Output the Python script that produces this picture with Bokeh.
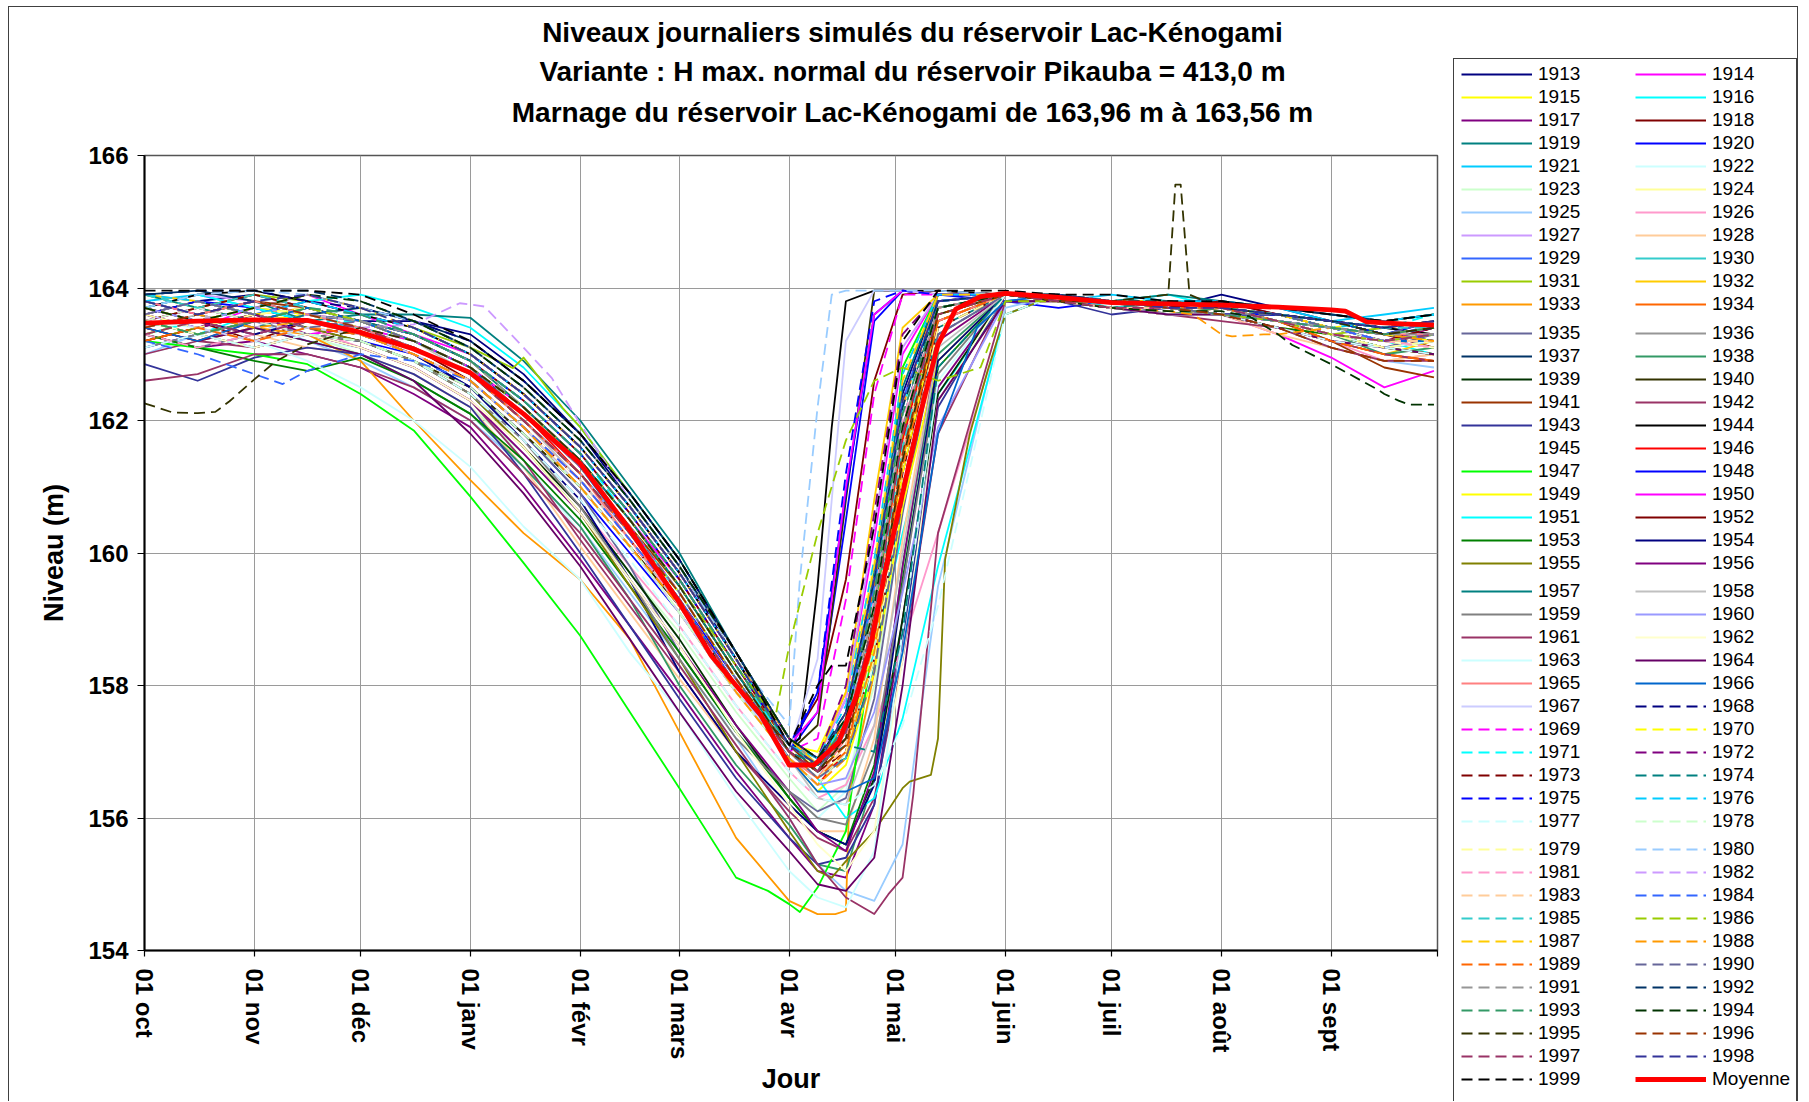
from bokeh.plotting import figure
from bokeh.layouts import row, column
from bokeh.models import Range1d, FixedTicker, Legend, LegendItem, Label
from bokeh.embed import file_html
from bokeh.resources import INLINE

# Days counted from 1 October; one sample per half month, denser around the spring refill
DAYS = [0, 15, 31, 46, 61, 76, 92, 107, 123, 137, 151, 167, 182, 190, 198, 206,
        214, 224, 243, 258, 273, 289, 304, 320, 335, 350, 364]

MONTH_DAYS = [0, 31, 61, 92, 123, 151, 182, 212, 243, 273, 304, 335]
MONTH_LABELS = ["01 oct", "01 nov", "01 déc", "01 janv", "01 févr", "01 mars",
                "01 avr", "01 mai", "01 juin", "01 juil", "01 août", "01 sept"]
LEVEL_TICKS = [154, 156, 158, 160, 162, 164, 166]

# Simulated daily levels (m), one list per hydrological year
L1913 = [163.6, 163.8, 163.9, 163.7, 163.5, 163.5, 163.3, 162.7, 161.8, 160.8, 159.8, 158.4, 157.1, 156.7, 157.4, 159.6, 162.4, 163.9, 163.9, 163.8, 163.8, 163.7, 163.9, 163.7, 163.5, 163.3, 163.2]
L1914 = [163.2, 163.4, 163.7, 163.9, 163.6, 163.3, 163.0, 162.4, 161.6, 160.7, 159.7, 158.4, 157.2, 156.9, 157.8, 160.2, 163.0, 163.9, 163.9, 163.8, 163.7, 163.7, 163.6, 163.3, 162.95, 162.5, 162.75]
L1915 = [163.9, 163.7, 163.5, 163.6, 163.4, 163.2, 162.8, 162.1, 161.3, 160.4, 159.5, 158.2, 157.1, 157.0, 157.9, 159.8, 161.9, 163.5, 163.9, 163.9, 163.8, 163.7, 163.7, 163.6, 163.4, 163.5, 163.6]
L1916 = [163.5, 163.3, 163.6, 163.8, 163.9, 163.7, 163.4, 162.8, 161.9, 160.9, 159.9, 158.5, 157.2, 156.8, 157.2, 158.5, 160.3, 162.4, 163.8, 163.9, 163.8, 163.9, 163.7, 163.5, 163.4, 163.2, 163.0]
L1917 = [163.3, 163.1, 163.2, 163.0, 162.8, 162.4, 161.9, 161.0, 159.9, 158.9, 157.9, 156.7, 155.7, 155.2, 155.1, 156.2, 159.0, 162.5, 163.9, 163.8, 163.8, 163.7, 163.8, 163.6, 163.5, 163.3, 163.4]
L1918 = [163.7, 163.5, 163.2, 163.5, 163.4, 163.1, 162.6, 161.9, 161.0, 160.1, 159.2, 158.0, 157.1, 157.8, 159.6, 162.6, 163.9, 163.96, 163.9, 163.8, 163.7, 163.8, 163.7, 163.6, 163.5, 163.3, 163.1]
L1919 = [163.4, 163.6, 163.8, 163.5, 163.6, 163.6, 163.55, 162.9, 162.0, 161.0, 160.0, 158.5, 157.2, 156.7, 156.9, 158.3, 160.9, 163.4, 163.9, 163.8, 163.8, 163.9, 163.8, 163.7, 163.6, 163.5, 163.6]
L1920 = [163.1, 163.3, 163.5, 163.3, 163.2, 163.0, 162.5, 161.8, 160.9, 160.0, 159.1, 157.9, 157.0, 157.6, 160.5, 163.5, 163.96, 163.9, 163.8, 163.7, 163.8, 163.7, 163.6, 163.6, 163.4, 163.2, 163.3]
L1921 = [163.8, 163.9, 163.7, 163.5, 163.4, 163.1, 162.7, 162.0, 161.2, 160.3, 159.4, 158.1, 157.0, 156.6, 157.3, 159.4, 162.0, 163.7, 163.9, 163.8, 163.9, 163.8, 163.8, 163.7, 163.5, 163.6, 163.7]
L1922 = [163.0, 163.2, 163.4, 163.2, 163.1, 162.8, 162.3, 161.4, 160.3, 159.3, 158.3, 157.3, 156.4, 156.0, 156.4, 158.4, 161.5, 163.6, 163.9, 163.9, 163.8, 163.6, 163.6, 163.5, 163.3, 163.1, 163.2]
L1923 = [163.5, 163.3, 163.1, 163.3, 163.0, 162.7, 162.2, 161.5, 160.6, 159.7, 158.8, 157.6, 156.6, 156.1, 156.5, 158.0, 160.8, 163.3, 163.9, 163.8, 163.8, 163.7, 163.6, 163.5, 163.2, 163.0, 163.1]
L1924 = [163.9, 163.7, 163.9, 163.7, 163.5, 163.2, 162.8, 162.2, 161.3, 160.4, 159.4, 158.1, 157.0, 156.8, 157.6, 159.9, 162.7, 163.9, 163.9, 163.8, 163.7, 163.6, 163.7, 163.5, 163.3, 163.2, 163.1]
L1925 = [163.0, 163.3, 163.5, 163.2, 162.9, 162.5, 162.0, 161.3, 160.4, 159.4, 158.4, 157.2, 156.0, 155.3, 154.9, 154.75, 155.6, 159.5, 163.7, 163.9, 163.8, 163.7, 163.6, 163.4, 163.1, 162.9, 162.8]
L1926 = [163.6, 163.4, 163.2, 163.4, 163.1, 162.8, 162.3, 161.6, 160.7, 159.8, 158.9, 157.7, 156.7, 156.3, 156.5, 157.4, 158.6, 160.3, 163.6, 163.9, 163.8, 163.7, 163.6, 163.4, 163.2, 162.9, 163.0]
L1927 = [163.7, 163.9, 163.8, 163.6, 163.5, 163.3, 162.9, 162.3, 161.5, 160.6, 159.6, 158.3, 157.1, 156.9, 157.8, 160.4, 163.1, 163.9, 163.9, 163.9, 163.8, 163.7, 163.7, 163.6, 163.4, 163.2, 163.3]
L1928 = [163.3, 163.5, 163.3, 163.1, 163.0, 162.7, 162.2, 161.3, 160.1, 159.1, 158.1, 157.0, 156.2, 155.8, 155.8, 157.2, 160.2, 163.2, 163.9, 163.8, 163.7, 163.7, 163.6, 163.3, 163.1, 162.9, 163.0]
L1929 = [163.6, 163.4, 163.6, 163.8, 163.6, 163.4, 163.0, 162.4, 161.6, 160.7, 159.7, 158.4, 157.1, 156.8, 157.3, 159.0, 161.8, 163.8, 163.9, 163.8, 163.8, 163.8, 163.7, 163.6, 163.5, 163.3, 163.4]
L1930 = [163.8, 163.6, 163.4, 163.6, 163.4, 163.2, 162.8, 162.1, 161.3, 160.4, 159.4, 158.1, 157.0, 156.6, 156.9, 158.6, 161.4, 163.6, 163.9, 163.9, 163.7, 163.8, 163.7, 163.6, 163.4, 163.3, 163.5]
L1931 = [163.5, 163.7, 163.9, 163.8, 163.6, 163.4, 163.1, 162.95, 161.9, 160.9, 159.9, 158.5, 157.2, 156.8, 157.5, 159.2, 161.8, 163.7, 163.9, 163.8, 163.8, 163.7, 163.6, 163.5, 163.3, 163.4, 163.5]
L1932 = [163.9, 163.8, 163.6, 163.7, 163.5, 163.3, 162.9, 162.2, 161.4, 160.5, 159.5, 158.2, 157.1, 156.9, 157.9, 160.8, 163.4, 163.9, 163.9, 163.8, 163.8, 163.7, 163.6, 163.4, 163.2, 163.0, 163.2]
L1933 = [163.4, 163.2, 163.4, 163.3, 162.9, 162.0, 161.1, 160.3, 159.6, 158.7, 157.3, 155.7, 154.75, 154.55, 154.6, 158.2, 162.2, 163.9, 163.9, 163.8, 163.7, 163.6, 163.6, 163.4, 163.3, 163.1, 163.0]
L1934 = [163.2, 163.4, 163.6, 163.4, 163.3, 163.0, 162.6, 161.9, 161.1, 160.2, 159.3, 158.0, 157.0, 156.7, 157.5, 159.5, 162.3, 163.8, 163.9, 163.8, 163.7, 163.6, 163.7, 163.5, 163.2, 163.0, 162.9]
L1935 = [163.3, 163.1, 163.3, 163.5, 163.3, 163.0, 162.5, 161.8, 160.9, 159.8, 158.5, 157.3, 156.4, 156.1, 156.3, 157.8, 160.6, 163.3, 163.9, 163.8, 163.7, 163.7, 163.6, 163.4, 163.2, 163.1, 163.3]
L1936 = [163.7, 163.5, 163.7, 163.9, 163.7, 163.5, 163.1, 162.5, 161.7, 160.8, 159.8, 158.5, 157.2, 156.8, 157.1, 158.7, 161.5, 163.6, 163.9, 163.9, 163.8, 163.7, 163.7, 163.6, 163.5, 163.4, 163.3]
L1937 = [163.9, 163.96, 163.8, 163.6, 163.7, 163.5, 163.2, 162.6, 161.8, 160.9, 159.9, 158.5, 157.2, 156.9, 157.5, 159.3, 162.0, 163.8, 163.9, 163.8, 163.8, 163.7, 163.8, 163.7, 163.6, 163.5, 163.6]
L1938 = [163.4, 163.6, 163.4, 163.2, 163.0, 162.6, 162.1, 161.3, 160.4, 159.3, 158.0, 156.8, 155.9, 155.3, 155.2, 156.6, 159.8, 163.0, 163.9, 163.8, 163.7, 163.6, 163.7, 163.5, 163.3, 163.0, 163.1]
L1939 = [163.6, 163.8, 163.6, 163.4, 163.2, 162.9, 162.4, 161.6, 160.7, 159.7, 158.7, 157.4, 156.3, 155.8, 155.6, 156.6, 159.0, 162.4, 163.9, 163.8, 163.8, 163.7, 163.6, 163.6, 163.4, 163.3, 163.2]
L1940 = [163.5, 163.3, 163.1, 163.3, 163.2, 162.9, 162.5, 161.8, 161.0, 160.1, 159.2, 158.0, 157.0, 157.4, 160.8, 163.96, 163.96, 163.9, 163.9, 163.8, 163.7, 163.7, 163.6, 163.5, 163.4, 163.2, 163.3]
L1941 = [163.8, 163.6, 163.8, 163.7, 163.5, 163.2, 162.8, 162.1, 161.3, 160.4, 159.5, 158.2, 157.1, 156.7, 157.2, 159.1, 161.9, 163.7, 163.9, 163.8, 163.8, 163.7, 163.6, 163.5, 163.2, 162.8, 162.65]
L1942 = [163.0, 163.2, 163.1, 163.3, 163.1, 162.8, 162.3, 161.4, 160.2, 159.2, 158.2, 157.0, 156.1, 155.7, 155.5, 156.3, 158.4, 161.8, 163.9, 163.8, 163.7, 163.6, 163.6, 163.4, 163.1, 162.9, 162.9]
L1943 = [162.85, 162.6, 162.95, 163.1, 163.0, 162.7, 162.2, 161.2, 160.0, 158.9, 157.8, 156.6, 155.7, 155.3, 155.4, 156.2, 158.7, 162.2, 163.9, 163.8, 163.6, 163.7, 163.6, 163.5, 163.3, 163.1, 163.2]
L1944 = [163.7, 163.9, 163.96, 163.8, 163.6, 163.4, 163.0, 162.4, 161.6, 160.7, 159.7, 158.4, 157.1, 159.5, 163.8, 163.96, 163.96, 163.96, 163.9, 163.8, 163.8, 163.7, 163.7, 163.6, 163.5, 163.4, 163.3]
L1945 = [163.5, 163.6, 163.4, 163.5, 163.3, 163.0, 162.6, 161.9, 161.1, 160.2, 159.2, 157.9, 156.9, 156.6, 157.3, 159.2, 162.0, 163.7, 163.9, 163.8, 163.8, 163.7, 163.7, 163.5, 163.4, 163.3, 163.4]
L1946 = [163.4, 163.2, 163.5, 163.7, 163.5, 163.2, 162.8, 162.1, 161.2, 160.3, 159.3, 158.0, 156.9, 156.5, 157.0, 158.9, 161.7, 163.7, 163.9, 163.9, 163.8, 163.8, 163.7, 163.6, 163.4, 163.2, 163.4]
L1947 = [163.2, 163.1, 163.0, 162.85, 162.4, 161.85, 160.85, 159.85, 158.75, 157.6, 156.45, 155.1, 154.7, 154.95, 155.8, 158.8, 162.8, 163.9, 163.9, 163.8, 163.7, 163.7, 163.6, 163.5, 163.3, 163.2, 163.3]
L1948 = [163.6, 163.8, 163.7, 163.5, 163.4, 163.1, 162.7, 162.0, 161.2, 160.3, 159.3, 158.1, 157.0, 157.9, 160.9, 163.6, 163.96, 163.9, 163.9, 163.8, 163.8, 163.7, 163.6, 163.6, 163.4, 163.3, 163.5]
L1949 = [163.2, 163.4, 163.2, 163.4, 163.3, 163.0, 162.6, 161.9, 161.0, 160.1, 159.1, 157.9, 156.9, 156.4, 156.8, 158.2, 160.7, 162.9, 163.9, 163.9, 163.8, 163.8, 163.7, 163.5, 163.3, 163.2, 163.1]
L1950 = [163.8, 163.6, 163.4, 163.6, 163.5, 163.2, 162.8, 162.2, 161.4, 160.5, 159.6, 158.3, 157.1, 157.6, 161.0, 163.6, 163.96, 163.9, 163.9, 163.8, 163.7, 163.7, 163.6, 163.5, 163.4, 163.3, 163.2]
L1951 = [163.3, 163.5, 163.7, 163.5, 163.4, 163.1, 162.7, 162.0, 161.2, 160.3, 159.3, 158.0, 157.0, 156.6, 156.0, 156.3, 157.5, 159.8, 163.6, 163.9, 163.8, 163.7, 163.7, 163.5, 163.4, 163.2, 163.3]
L1952 = [163.5, 163.7, 163.9, 163.7, 163.5, 163.3, 162.9, 162.3, 161.5, 160.6, 159.6, 158.3, 157.1, 156.8, 157.2, 158.8, 161.2, 163.5, 163.9, 163.8, 163.8, 163.7, 163.8, 163.6, 163.5, 163.4, 163.5]
L1953 = [163.3, 163.1, 162.9, 162.75, 162.95, 162.6, 162.1, 161.4, 160.5, 159.5, 158.5, 157.3, 156.3, 155.8, 155.6, 156.8, 159.6, 162.8, 163.9, 163.8, 163.7, 163.7, 163.6, 163.4, 163.3, 163.1, 163.0]
L1954 = [163.7, 163.5, 163.3, 163.5, 163.3, 163.0, 162.5, 161.7, 160.8, 159.6, 158.2, 157.0, 156.2, 155.8, 155.6, 156.5, 159.5, 162.9, 163.9, 163.8, 163.8, 163.7, 163.7, 163.5, 163.4, 163.2, 163.3]
L1955 = [163.2, 163.4, 163.6, 163.4, 163.2, 162.9, 162.4, 161.6, 160.6, 159.5, 158.4, 157.0, 155.8, 155.2, 155.35, 155.8, 156.45, 157.2, 163.6, 163.9, 163.8, 163.7, 163.6, 163.5, 163.3, 163.1, 163.0]
L1956 = [163.6, 163.4, 163.6, 163.3, 163.1, 162.8, 162.3, 161.5, 160.6, 159.6, 158.6, 157.4, 156.4, 155.8, 155.5, 156.7, 159.8, 163.2, 163.9, 163.8, 163.7, 163.7, 163.6, 163.5, 163.3, 163.2, 163.4]
L1957 = [163.9, 163.7, 163.5, 163.7, 163.5, 163.3, 162.9, 162.2, 161.4, 160.5, 159.5, 158.2, 157.0, 156.7, 157.4, 159.7, 162.5, 163.9, 163.9, 163.9, 163.8, 163.7, 163.7, 163.6, 163.5, 163.3, 163.2]
L1958 = [163.4, 163.6, 163.4, 163.6, 163.5, 163.2, 162.7, 162.0, 161.1, 160.2, 159.2, 157.9, 156.9, 156.3, 156.2, 157.4, 160.0, 163.1, 163.9, 163.8, 163.8, 163.7, 163.6, 163.5, 163.3, 163.2, 163.2]
L1959 = [163.1, 163.3, 163.5, 163.3, 163.2, 162.9, 162.4, 161.7, 160.7, 159.6, 158.4, 157.2, 156.4, 156.0, 155.9, 157.0, 159.5, 162.7, 163.9, 163.9, 163.8, 163.6, 163.6, 163.5, 163.3, 163.2, 163.1]
L1960 = [163.7, 163.5, 163.7, 163.6, 163.4, 163.1, 162.7, 162.0, 161.2, 160.3, 159.3, 158.0, 156.9, 156.5, 156.6, 157.6, 159.4, 161.9, 163.8, 163.9, 163.8, 163.7, 163.7, 163.6, 163.4, 163.3, 163.3]
L1961 = [162.6, 162.7, 163.0, 163.0, 162.8, 162.5, 162.0, 161.2, 160.3, 159.3, 158.3, 157.1, 156.0, 155.3, 154.8, 154.55, 155.1, 160.3, 163.8, 163.8, 163.7, 163.6, 163.5, 163.4, 163.2, 163.0, 162.9]
L1962 = [163.5, 163.3, 163.1, 163.3, 163.1, 162.8, 162.3, 161.6, 160.6, 159.6, 158.6, 157.3, 156.2, 155.6, 155.2, 155.8, 158.4, 162.3, 163.9, 163.8, 163.7, 163.6, 163.6, 163.5, 163.3, 163.2, 163.1]
L1963 = [163.5, 163.4, 163.2, 162.9, 162.5, 162.0, 161.3, 160.4, 159.6, 158.5, 157.6, 156.3, 155.2, 154.8, 154.65, 155.5, 158.8, 162.6, 163.9, 163.8, 163.7, 163.6, 163.6, 163.5, 163.3, 163.1, 163.2]
L1964 = [163.4, 163.2, 163.4, 163.2, 163.0, 162.6, 161.8, 160.9, 159.8, 158.7, 157.6, 156.4, 155.5, 155.0, 154.9, 155.4, 158.0, 162.3, 163.8, 163.8, 163.7, 163.6, 163.6, 163.4, 163.2, 163.1, 163.0]
L1965 = [163.8, 163.6, 163.8, 163.6, 163.4, 163.1, 162.7, 162.0, 161.2, 160.2, 159.3, 158.0, 156.9, 156.6, 157.2, 159.0, 161.5, 163.5, 163.9, 163.8, 163.8, 163.7, 163.7, 163.6, 163.4, 163.3, 163.3]
L1966 = [163.4, 163.2, 163.5, 163.7, 163.5, 163.2, 162.8, 162.1, 161.3, 160.3, 159.3, 158.0, 156.9, 156.4, 156.4, 156.6, 158.5, 161.8, 163.8, 163.9, 163.8, 163.7, 163.6, 163.5, 163.3, 163.2, 163.2]
L1967 = [163.6, 163.4, 163.2, 163.4, 163.3, 163.0, 162.6, 161.9, 161.0, 160.1, 159.1, 157.9, 157.0, 158.4, 163.2, 163.96, 163.96, 163.9, 163.9, 163.8, 163.8, 163.7, 163.6, 163.5, 163.4, 163.3, 163.4]
L1968 = [163.9, 163.96, 163.96, 163.8, 163.7, 163.5, 163.2, 162.6, 161.8, 160.9, 159.9, 158.5, 157.2, 156.9, 157.3, 158.9, 161.6, 163.7, 163.9, 163.9, 163.8, 163.8, 163.7, 163.6, 163.5, 163.4, 163.5]
L1969 = [163.5, 163.7, 163.5, 163.3, 163.4, 163.2, 162.8, 162.1, 161.3, 160.4, 159.4, 158.1, 157.0, 157.2, 159.3, 162.4, 163.9, 163.9, 163.9, 163.8, 163.7, 163.7, 163.6, 163.5, 163.3, 163.2, 163.3]
L1970 = [163.3, 163.5, 163.7, 163.6, 163.4, 163.1, 162.7, 162.0, 161.2, 160.3, 159.4, 158.1, 157.0, 156.7, 157.1, 158.6, 161.2, 163.6, 163.9, 163.8, 163.8, 163.7, 163.7, 163.6, 163.4, 163.3, 163.2]
L1971 = [163.7, 163.9, 163.7, 163.5, 163.5, 163.3, 162.9, 162.3, 161.5, 160.5, 159.5, 158.2, 157.1, 156.8, 157.5, 159.4, 162.2, 163.8, 163.9, 163.8, 163.8, 163.8, 163.7, 163.6, 163.5, 163.4, 163.6]
L1972 = [163.6, 163.4, 163.6, 163.8, 163.6, 163.4, 163.0, 162.4, 161.6, 160.7, 159.7, 158.4, 157.2, 156.9, 158.0, 160.6, 163.3, 163.9, 163.9, 163.8, 163.8, 163.7, 163.6, 163.5, 163.4, 163.2, 163.3]
L1973 = [163.2, 163.4, 163.6, 163.4, 163.3, 163.0, 162.6, 161.9, 161.1, 160.2, 159.2, 158.0, 157.0, 156.7, 157.0, 158.4, 161.0, 163.4, 163.9, 163.9, 163.8, 163.7, 163.7, 163.5, 163.4, 163.2, 163.4]
L1974 = [163.8, 163.6, 163.4, 163.6, 163.5, 163.2, 162.8, 162.2, 161.4, 160.5, 159.5, 158.2, 157.0, 156.8, 157.1, 157.0, 158.8, 162.8, 163.9, 163.8, 163.7, 163.8, 163.7, 163.6, 163.4, 163.3, 163.4]
L1975 = [163.4, 163.6, 163.8, 163.6, 163.5, 163.3, 162.9, 162.3, 161.5, 160.6, 159.6, 158.3, 157.1, 157.9, 161.2, 163.8, 163.96, 163.9, 163.9, 163.8, 163.8, 163.7, 163.7, 163.6, 163.5, 163.3, 163.4]
L1976 = [163.9, 163.8, 163.6, 163.8, 163.6, 163.4, 163.0, 162.4, 161.6, 160.7, 159.7, 158.4, 157.1, 156.9, 157.7, 159.9, 162.7, 163.9, 163.9, 163.9, 163.8, 163.7, 163.7, 163.6, 163.4, 163.5, 163.6]
L1977 = [163.1, 163.3, 163.1, 163.3, 163.2, 162.9, 162.4, 161.7, 160.8, 159.9, 158.9, 157.7, 156.7, 156.3, 156.2, 156.5, 157.4, 159.2, 163.6, 163.9, 163.8, 163.7, 163.6, 163.4, 163.2, 163.1, 163.0]
L1978 = [163.5, 163.7, 163.5, 163.3, 163.2, 162.9, 162.5, 161.8, 161.0, 160.1, 159.1, 157.9, 156.9, 156.5, 157.0, 158.6, 161.3, 163.6, 163.9, 163.8, 163.7, 163.7, 163.7, 163.5, 163.4, 163.2, 163.3]
L1979 = [163.6, 163.4, 163.6, 163.7, 163.5, 163.2, 162.8, 162.1, 161.3, 160.4, 159.4, 158.1, 157.0, 156.6, 157.0, 158.4, 160.9, 163.4, 163.9, 163.9, 163.8, 163.7, 163.6, 163.5, 163.3, 163.1, 163.2]
L1980 = [163.7, 163.9, 163.96, 163.9, 163.7, 163.5, 163.1, 162.5, 161.7, 160.8, 159.8, 158.4, 157.4, 162.2, 163.96, 163.96, 163.96, 163.96, 163.9, 163.8, 163.8, 163.7, 163.7, 163.6, 163.5, 163.4, 163.5]
L1981 = [163.3, 163.1, 163.3, 163.5, 163.3, 163.0, 162.6, 161.9, 161.1, 160.2, 159.2, 158.0, 157.0, 156.7, 157.3, 159.3, 162.0, 163.7, 163.9, 163.8, 163.8, 163.7, 163.6, 163.5, 163.3, 163.2, 163.1]
L1982 = [163.4, 163.6, 163.8, 163.6, 163.4, 163.45, 163.75, 163.1, 161.95, 160.8, 159.8, 158.5, 157.2, 156.9, 157.6, 159.6, 162.3, 163.8, 163.9, 163.8, 163.8, 163.7, 163.6, 163.5, 163.4, 163.2, 163.3]
L1983 = [163.6, 163.8, 163.6, 163.4, 163.4, 163.1, 162.7, 162.0, 161.2, 160.3, 159.3, 158.0, 157.0, 156.6, 157.1, 158.9, 161.6, 163.6, 163.9, 163.8, 163.7, 163.7, 163.7, 163.5, 163.3, 163.2, 163.2]
L1984 = [163.2, 163.0, 162.7, 162.75, 163.0, 162.9, 162.6, 161.9, 161.1, 160.2, 159.3, 158.0, 157.0, 156.7, 157.4, 159.5, 162.3, 163.8, 163.9, 163.8, 163.8, 163.7, 163.6, 163.5, 163.4, 163.2, 163.3]
L1985 = [163.9, 163.7, 163.9, 163.7, 163.6, 163.3, 162.9, 162.3, 161.5, 160.6, 159.6, 158.3, 157.1, 156.8, 157.3, 159.0, 161.6, 163.7, 163.9, 163.9, 163.8, 163.7, 163.7, 163.6, 163.5, 163.4, 163.4]
L1986 = [163.5, 163.3, 163.5, 163.7, 163.5, 163.2, 162.8, 162.2, 161.4, 160.5, 159.5, 158.3, 158.6, 160.3, 161.7, 162.6, 162.8, 162.6, 163.8, 163.8, 163.8, 163.7, 163.6, 163.5, 163.3, 163.2, 163.3]
L1987 = [163.7, 163.5, 163.7, 163.9, 163.7, 163.4, 163.0, 162.4, 161.6, 160.7, 159.7, 158.4, 157.2, 156.8, 157.6, 159.8, 162.6, 163.9, 163.9, 163.8, 163.8, 163.8, 163.7, 163.6, 163.4, 163.3, 163.4]
L1988 = [163.4, 163.6, 163.4, 163.5, 163.3, 163.0, 162.6, 161.9, 161.0, 160.1, 159.2, 157.9, 156.9, 156.5, 156.9, 158.5, 161.4, 163.6, 163.9, 163.8, 163.7, 163.65, 163.3, 163.3, 163.4, 163.3, 163.2]
L1989 = [163.2, 163.4, 163.2, 163.4, 163.3, 163.1, 162.7, 162.0, 161.2, 160.3, 159.3, 158.0, 157.0, 156.6, 157.0, 158.7, 161.3, 163.5, 163.9, 163.8, 163.8, 163.7, 163.7, 163.5, 163.2, 163.0, 162.9]
L1990 = [163.6, 163.8, 163.6, 163.4, 163.5, 163.2, 162.8, 162.1, 161.3, 160.4, 159.4, 158.1, 157.0, 156.6, 156.9, 158.2, 160.8, 163.3, 163.9, 163.9, 163.8, 163.7, 163.6, 163.6, 163.4, 163.3, 163.5]
L1991 = [163.8, 163.6, 163.8, 163.6, 163.5, 163.3, 162.9, 162.2, 161.4, 160.5, 159.5, 158.2, 157.0, 156.7, 157.3, 159.2, 161.9, 163.7, 163.9, 163.8, 163.8, 163.7, 163.7, 163.5, 163.4, 163.3, 163.3]
L1992 = [163.9, 163.96, 163.96, 163.96, 163.8, 163.5, 163.1, 162.5, 161.7, 160.8, 159.8, 158.5, 157.2, 156.9, 157.6, 159.6, 162.2, 163.8, 163.9, 163.9, 163.8, 163.8, 163.7, 163.6, 163.5, 163.4, 163.5]
L1993 = [163.5, 163.3, 163.5, 163.7, 163.6, 163.3, 162.9, 162.3, 161.5, 160.6, 159.6, 158.3, 157.1, 156.8, 157.4, 159.4, 162.1, 163.7, 163.9, 163.8, 163.8, 163.7, 163.6, 163.5, 163.4, 163.3, 163.4]
L1994 = [163.7, 163.5, 163.7, 163.9, 163.8, 163.5, 163.1, 162.5, 161.7, 160.8, 159.8, 158.5, 157.2, 156.9, 157.5, 159.2, 161.9, 163.7, 163.9, 163.8, 163.7, 163.65, 163.65, 163.3, 162.85, 162.4, 162.24]
L1995 = [162.26, 162.11, 162.62, 163.15, 163.4, 163.2, 162.8, 162.2, 161.4, 160.5, 159.5, 158.2, 157.0, 156.7, 157.2, 158.8, 161.4, 163.6, 163.9, 163.8, 163.8, 163.9, 163.7, 163.6, 163.5, 163.3, 163.4]
L1996 = [163.4, 163.6, 163.8, 163.6, 163.4, 163.1, 162.7, 162.0, 161.2, 160.3, 159.4, 158.1, 157.0, 156.7, 157.1, 158.8, 161.5, 163.6, 163.9, 163.8, 163.8, 163.7, 163.6, 163.4, 163.1, 162.9, 162.9]
L1997 = [163.3, 163.5, 163.3, 163.5, 163.4, 163.1, 162.7, 162.0, 161.2, 160.3, 159.3, 158.0, 157.0, 156.7, 157.3, 159.0, 161.8, 163.6, 163.9, 163.8, 163.7, 163.7, 163.7, 163.5, 163.3, 163.2, 163.3]
L1998 = [163.8, 163.6, 163.8, 163.9, 163.7, 163.4, 163.0, 162.4, 161.6, 160.7, 159.7, 158.4, 157.1, 156.8, 157.6, 159.6, 162.3, 163.8, 163.9, 163.9, 163.8, 163.7, 163.7, 163.6, 163.5, 163.4, 163.5]
L1999 = [163.96, 163.96, 163.96, 163.96, 163.9, 163.6, 163.2, 162.6, 161.8, 160.9, 159.9, 158.5, 157.1, 158.0, 158.3, 160.4, 163.2, 163.96, 163.96, 163.9, 163.9, 163.8, 163.8, 163.7, 163.6, 163.5, 163.6]

# Additional (day, level) readings where a year departs from the half-month samples
EXTRA = {
    1931: [(104, 162.79), (118, 162.19)],
    1933: [(195, 154.55), (199, 156.4)],
    1944: [(185, 157.2), (194, 161.9)],
    1947: [(176, 154.9), (185, 154.58)],
    1951: [(233, 161.6)],
    1955: [(194, 155.1), (216, 156.55), (222, 156.65), (226, 159.9), (233, 161.8), (238, 162.75)],
    1961: [(210, 154.85), (217, 156.35)],
    1966: [(235, 163.4)],
    1980: [(185, 159.6), (194, 163.9)],
    1982: [(89, 163.77), (96, 163.72), (115, 162.64)],
    1984: [(39, 162.55)],
    1986: [(178, 157.5), (236, 162.8), (241, 163.5)],
    1988: [(296, 163.6), (307, 163.27), (316, 163.3)],
    1994: [(312, 163.57), (324, 163.14), (348, 162.47), (354, 162.3), (357, 162.24)],
    1995: [(8, 162.12), (20, 162.13), (24, 162.29), (37, 162.89),
           (291, 165.56), (292.5, 165.56), (295, 163.9)],
    1999: [(194, 158.3)],
}

# Mean of all years
MEAN_DAYS = [0, 15, 31, 46, 61, 76, 92, 107, 123, 137, 151, 160, 167, 174, 182, 189,
             196, 201, 205, 209, 214, 219, 224, 229, 236, 243, 258, 273, 289, 304,
             320, 335, 339, 345, 355, 364]
MEAN_LEVEL = [163.47, 163.50, 163.52, 163.51, 163.33, 163.08, 162.72, 162.1, 161.35,
              160.35, 159.25, 158.45, 158.0, 157.55, 156.8, 156.8, 157.15, 157.85,
              158.6, 159.7, 160.9, 162.1, 163.15, 163.68, 163.87, 163.92, 163.86,
              163.78, 163.76, 163.74, 163.71, 163.67, 163.65, 163.49, 163.46, 163.44]

YEARS = list(range(1913, 2000))

TITLE_LINES = ["Niveaux journaliers simulés du réservoir Lac-Kénogami",
               "Variante : H max. normal du réservoir Pikauba = 413,0 m",
               "Marnage du réservoir Lac-Kénogami de 163,96 m à 163,56 m"]

# Excel-style series colours: 55 solid lines, then the same cycle dashed
PALETTE = ["#000080", "#FF00FF", "#FFFF00", "#00FFFF", "#800080", "#800000", "#008080",
           "#0000FF", "#00CCFF", "#CCFFFF", "#CCFFCC", "#FFFF99", "#99CCFF", "#FF99CC",
           "#CC99FF", "#FFCC99", "#3366FF", "#33CCCC", "#99CC00", "#FFCC00", "#FF9900",
           "#FF6600", "#666699", "#969696", "#003366", "#339966", "#003300", "#333300",
           "#993300", "#993366", "#333399", "#000000", "#FFFFFF", "#FF0000", "#00FF00",
           "#0000FF", "#FFFF00", "#FF00FF", "#00FFFF", "#800000", "#008000", "#000080",
           "#808000", "#800080", "#008080", "#C0C0C0", "#808080", "#9999FF", "#993366",
           "#FFFFCC", "#CCFFFF", "#660066", "#FF8080", "#0066CC", "#CCCCFF"]
FONT = "Liberation Sans"
DASH = "11 6"
MEAN_COLOR = "#FF0000"
SERIES_WIDTH = 1.8
MEAN_WIDTH = 4.8


def year_points(year):
    levels = globals()["L%d" % year]
    assert len(levels) == len(DAYS), year
    pts = dict(zip(DAYS, levels))
    for d, v in EXTRA.get(year, []):
        pts[d] = v
    days = sorted(pts)
    return days, [pts[d] for d in days]


def year_style(k):
    if k < len(PALETTE):
        return PALETTE[k], "solid"
    return PALETTE[k - len(PALETTE)], DASH


# Page geometry (px): plot frame spans x 143..1436, y 154..949
FRAME_LEFT, FRAME_RIGHT = 143, 1436

# ---------------------------------------------------------------- heading
# The heading's frame is aligned with the plot frame below it, so its x range is
# expressed in page pixels over that same span.
head = figure(width=1442, height=124, x_range=Range1d(FRAME_LEFT, FRAME_RIGHT),
              y_range=Range1d(124, 0),
              x_axis_location=None, y_axis_location=None, min_border=0, title=None,
              output_backend="svg", toolbar_location=None, outline_line_color=None)
head.grid.visible = False
for text, ty in zip(TITLE_LINES, [25, 64, 105]):
    head.add_layout(Label(x=911, y=ty, text=text, text_align="center",
                          text_baseline="middle", text_font=FONT,
                          text_font_style="bold", text_font_size="28px",
                          text_color="black"))

# ---------------------------------------------------------------- main plot
p = figure(width=1442, height=970, title=None,
           x_range=Range1d(0, 365), y_range=Range1d(154, 166),
           output_backend="svg", toolbar_location=None,
           min_border_left=135, min_border_right=14, min_border_top=24,
           min_border_bottom=151,
           background_fill_color="white", border_fill_color="white")

for k, year in enumerate(YEARS):
    xs, ys = year_points(year)
    color, dash = year_style(k)
    p.line(xs, ys, line_color=color, line_width=SERIES_WIDTH, line_dash=dash,
           line_join="round")

p.line(MEAN_DAYS, MEAN_LEVEL, line_color=MEAN_COLOR, line_width=MEAN_WIDTH,
       line_join="round")

p.xaxis.ticker = FixedTicker(ticks=MONTH_DAYS + [365])
overrides = {d: lab for d, lab in zip(MONTH_DAYS, MONTH_LABELS)}
overrides[365] = ""
p.xaxis.major_label_overrides = overrides
p.xaxis.major_label_orientation = "vertical"
p.yaxis.ticker = FixedTicker(ticks=LEVEL_TICKS)

for ax in (p.xaxis[0], p.yaxis[0]):
    ax.axis_line_color = "black"
    ax.axis_line_width = 2
    ax.major_tick_line_color = "black"
    ax.major_tick_line_width = 1.2
    ax.major_tick_in = 0
    ax.minor_tick_in = 0
    ax.minor_tick_out = 0
    ax.major_label_text_font = FONT
    ax.major_label_text_font_style = "bold"
    ax.major_label_text_font_size = "24px"
    ax.major_label_text_color = "black"
    ax.axis_label_text_font = FONT
    ax.axis_label_text_font_style = "bold"
    ax.axis_label_text_font_size = "27px"
    ax.axis_label_text_color = "black"

p.xaxis.major_tick_out = 6
p.xaxis.major_label_standoff = 12
p.xaxis.axis_label = "Jour"
p.xaxis.axis_label_standoff = 2
p.yaxis.major_tick_out = 7
p.yaxis.major_label_standoff = 9
p.yaxis.axis_label = "Niveau (m)"
p.yaxis.axis_label_standoff = 16

p.xgrid.grid_line_color = "#9a9a9a"
p.ygrid.grid_line_color = "#9a9a9a"
p.outline_line_color = "#555555"
p.outline_line_width = 1.5

# ---------------------------------------------------------------- legend panel
KEY_TOP, KEY_H = 52, 1048          # page y of the key panel, its height
key = figure(width=346, height=KEY_H, x_range=Range1d(0, 1), y_range=Range1d(0, 1),
             x_axis_location=None, y_axis_location=None, min_border=0, title=None,
             output_backend="svg", toolbar_location=None, outline_line_color=None,
             margin=(KEY_TOP - 6, 0, 0, 0))
key.grid.visible = False

# swatch renderers sit outside the key's (unit) ranges, so only the legend shows them
swatches = {}
for k, year in enumerate(YEARS):
    color, dash = year_style(k)
    swatches[year] = key.line([5, 6], [5, 6], line_color=color, line_width=SERIES_WIDTH,
                              line_dash=dash)
mean_swatch = key.line([5, 6], [5, 6], line_color=MEAN_COLOR, line_width=MEAN_WIDTH)
ghost = key.line([5, 6], [5, 6], line_alpha=0)

ROW_H, GAP, PAD = 22, 1, 8
FIRST_ROW, PITCH = 73.3, 23.49     # page y of the first row centre, row pitch
common = dict(orientation="vertical", glyph_width=71, glyph_height=ROW_H,
              label_height=ROW_H, label_standoff=6, spacing=GAP, padding=PAD, margin=0,
              label_text_font=FONT, label_text_font_size="19px",
              label_text_color="black", border_line_alpha=0, background_fill_alpha=0)


def legend_height(n):
    return 2 * PAD + n * ROW_H + (n - 1) * GAP


# outline of the key box (runs past the bottom edge of the page)
BOX_TOP = 59 - KEY_TOP
box_items = [LegendItem(label=" ", renderers=[ghost]) for _ in range(47)]
box = Legend(items=box_items, location=(2, KEY_H - BOX_TOP - legend_height(47)),
             label_width=249, **dict(common, border_line_alpha=1.0,
                                     background_fill_alpha=1.0))
box.border_line_color = "#404040"
box.border_line_width = 1.5
box.background_fill_color = "white"
key.add_layout(box)

left_items = [LegendItem(label=str(y), renderers=[swatches[y]]) for y in YEARS[0::2]]
right_items = [LegendItem(label=str(y), renderers=[swatches[y]]) for y in YEARS[1::2]]
right_items.append(LegendItem(label="Moyenne", renderers=[mean_swatch]))

# each column is split in short runs so the row pitch follows 23.5 px closely
CHUNK = 11
for items, x0 in ((left_items, 2), (right_items, 176)):
    for start in range(0, len(items), CHUNK):
        part = items[start:start + CHUNK]
        top = FIRST_ROW + PITCH * start - ROW_H / 2 - PAD - KEY_TOP
        key.add_layout(Legend(items=part,
                              location=(x0, KEY_H - top - legend_height(len(part))),
                              **common))

page = row(column(head, p), key, margin=(6, 0, 0, 8),
           styles={"border-left": "1.5px solid #404040",
                   "border-top": "1.5px solid #404040",
                   "border-right": "1.5px solid #404040"})

open("out.html", "w").write(file_html(page, INLINE, "Niveaux journaliers simulés"))
